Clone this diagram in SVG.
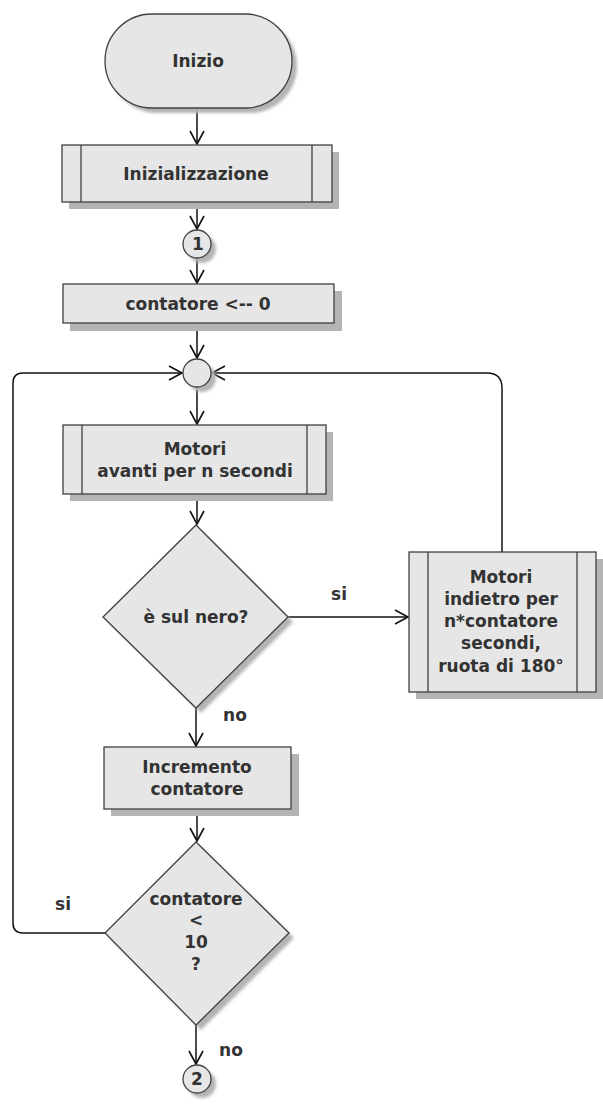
<svg xmlns="http://www.w3.org/2000/svg" width="603" height="1104" viewBox="0 0 603 1104">
<style>
.shape{fill:#e6e6e6;stroke:#404040;stroke-width:1.3}
.sh{fill:#b4b4b4}
.t{font-family:"DejaVu Sans",Verdana,sans-serif;font-weight:bold;font-size:17px;fill:#333;text-anchor:middle}
.c{fill:none;stroke:#111;stroke-width:1.5}
</style>
<defs>
<marker id="ar" viewBox="0 0 16 16" refX="14" refY="8" markerWidth="16" markerHeight="16" markerUnits="userSpaceOnUse" orient="auto">
<path d="M1,1 L14,8 L1,15" fill="none" stroke="#111" stroke-width="1.6"/>
</marker>
<filter id="bl" x="-10%" y="-10%" width="130%" height="130%"><feGaussianBlur stdDeviation="1.5"/></filter>
</defs>
<rect width="603" height="1104" fill="#fff"/>

<g id="connectors">
<path class="c" d="M197,108 V144" marker-end="url(#ar)"/>
<path class="c" d="M197,202 V229" marker-end="url(#ar)"/>
<path class="c" d="M197,258 V283" marker-end="url(#ar)"/>
<path class="c" d="M197,323 V358" marker-end="url(#ar)"/>
<path class="c" d="M197,387 V424" marker-end="url(#ar)"/>
<path class="c" d="M197,494 V524" marker-end="url(#ar)"/>
<path class="c" d="M288,617 H408" marker-end="url(#ar)"/>
<path class="c" d="M502,552 V388 Q502,373 487,373 H212" marker-end="url(#ar)"/>
<path class="c" d="M196,708 V746" marker-end="url(#ar)"/>
<path class="c" d="M197,809 V841" marker-end="url(#ar)"/>
<path class="c" d="M105,933 H23 Q13,933 13,923 V383 Q13,373 23,373 H182" marker-end="url(#ar)"/>
<path class="c" d="M196,1025 V1064" marker-end="url(#ar)"/>
<text class="t" x="339" y="600">si</text>
<text class="t" x="235" y="721">no</text>
<text class="t" x="63" y="910">si</text>
<text class="t" x="231" y="1056">no</text>
</g>

<g id="inizio">
<rect class="sh" x="110" y="19" width="187" height="94" rx="47" filter="url(#bl)"/>
<rect class="shape" x="105" y="14" width="187" height="94" rx="47"/>
<text class="t" x="198" y="67">Inizio</text>
</g>

<g id="inizializzazione">
<rect class="sh" x="69" y="152" width="270" height="57"/>
<rect class="shape" x="62" y="145" width="270" height="57"/>
<line x1="81" y1="145" x2="81" y2="202" stroke="#404040" stroke-width="1.3"/>
<line x1="312" y1="145" x2="312" y2="202" stroke="#404040" stroke-width="1.3"/>
<text class="t" x="196" y="180">Inizializzazione</text>
</g>

<g id="connettore1">
<circle class="sh" cx="202" cy="249" r="14" filter="url(#bl)"/>
<circle class="shape" cx="197" cy="244" r="14"/>
<text class="t" x="198" y="250">1</text>
</g>

<g id="contatore0">
<rect class="sh" x="70" y="291" width="272" height="40"/>
<rect class="shape" x="63" y="284" width="271" height="39"/>
<text class="t" x="198" y="310">contatore &lt;-- 0</text>
</g>

<g id="giunzione">
<circle class="sh" cx="202" cy="378" r="14" filter="url(#bl)"/>
<circle class="shape" cx="197" cy="373" r="14"/>
</g>

<g id="motori-avanti">
<rect class="sh" x="70" y="432" width="263" height="69"/>
<rect class="shape" x="63" y="425" width="263" height="69"/>
<line x1="82" y1="425" x2="82" y2="494" stroke="#404040" stroke-width="1.3"/>
<line x1="307" y1="425" x2="307" y2="494" stroke="#404040" stroke-width="1.3"/>
<text class="t" x="195" y="455">Motori</text>
<text class="t" x="195" y="477">avanti per n secondi</text>
</g>

<g id="sul-nero">
<path class="sh" d="M201,530 L293,622 L201,713 L109,622 Z" filter="url(#bl)"/>
<path class="shape" d="M196,525 L288,617 L196,708 L103,617 Z"/>
<text class="t" x="196" y="623">è sul nero?</text>
</g>

<g id="motori-indietro">
<rect class="sh" x="416" y="559" width="187" height="140"/>
<rect class="shape" x="409" y="552" width="187" height="140"/>
<line x1="428" y1="552" x2="428" y2="692" stroke="#404040" stroke-width="1.3"/>
<line x1="577" y1="552" x2="577" y2="692" stroke="#404040" stroke-width="1.3"/>
<text class="t" x="501" y="583">Motori</text>
<text class="t" x="501" y="605">indietro per</text>
<text class="t" x="501" y="627">n*contatore</text>
<text class="t" x="501" y="649">secondi,</text>
<text class="t" x="501" y="672">ruota di 180°</text>
</g>

<g id="incremento">
<rect class="sh" x="111" y="754" width="188" height="62"/>
<rect class="shape" x="104" y="747" width="187" height="62"/>
<text class="t" x="197" y="773">Incremento</text>
<text class="t" x="197" y="795">contatore</text>
</g>

<g id="contatore-minore">
<path class="sh" d="M201,847 L294,938 L201,1030 L110,938 Z" filter="url(#bl)"/>
<path class="shape" d="M196,842 L289,933 L196,1025 L105,933 Z"/>
<text class="t" x="196" y="905">contatore</text>
<text class="t" x="196" y="926">&lt;</text>
<text class="t" x="196" y="948">10</text>
<text class="t" x="196" y="970">?</text>
</g>

<g id="connettore2">
<circle class="sh" cx="202" cy="1084" r="14" filter="url(#bl)"/>
<circle class="shape" cx="197" cy="1079" r="14"/>
<text class="t" x="197" y="1085">2</text>
</g>
</svg>
